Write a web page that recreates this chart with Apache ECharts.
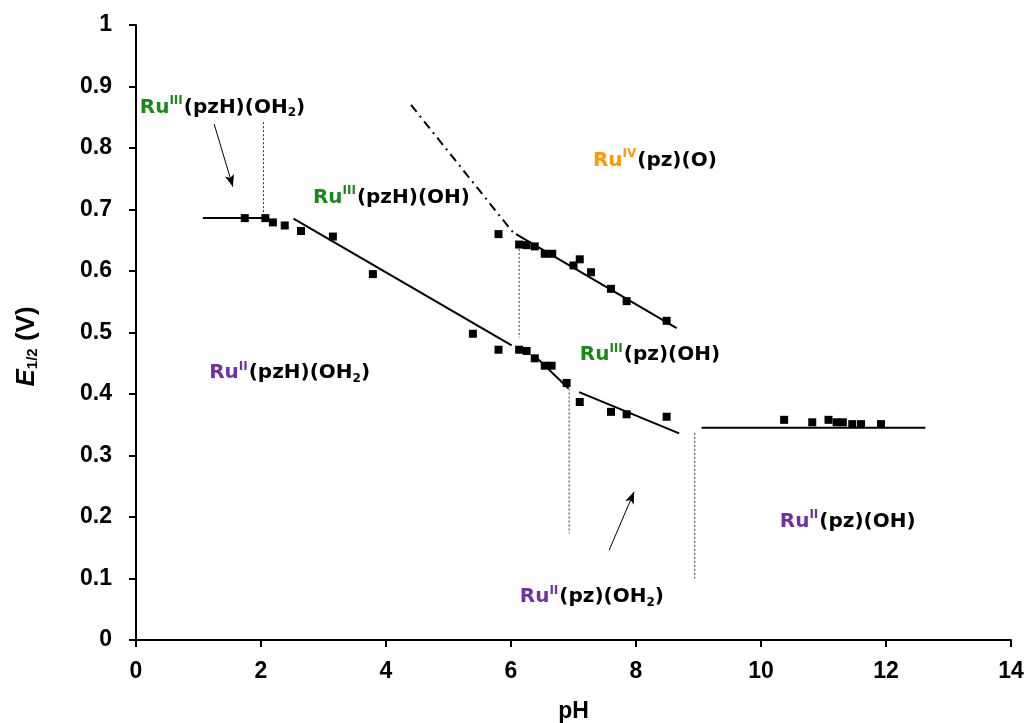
<!DOCTYPE html>
<html>
<head>
<meta charset="utf-8">
<script src="https://cdn.jsdelivr.net/npm/echarts@6/dist/echarts.min.js"></script>
<style>
  html, body { margin: 0; padding: 0; background: #fff; }
  #main { width: 1028px; height: 723px; }
</style>
</head>
<body>
<div id="main"></div>
<script>
// measured points, lower couple Ru(III)/Ru(II)
var lowX = [1.74, 2.07, 2.19, 2.38, 2.64, 3.15, 3.79, 5.39, 5.80, 6.13, 6.25, 6.38, 6.54, 6.65, 6.89, 7.10, 7.60, 7.85, 8.49];
var lowY = [0.686, 0.686, 0.679, 0.674, 0.665, 0.656, 0.595, 0.498, 0.472, 0.472, 0.470, 0.458, 0.446, 0.446, 0.418, 0.387, 0.371, 0.367, 0.363];
// upper couple Ru(IV)/Ru(III)
var upX = [5.80, 6.13, 6.25, 6.38, 6.54, 6.66, 7.00, 7.10, 7.28, 7.60, 7.85, 8.49];
var upY = [0.660, 0.643, 0.642, 0.640, 0.628, 0.628, 0.609, 0.619, 0.598, 0.571, 0.551, 0.519];
// high pH
var highX = [10.37, 10.82, 11.08, 11.21, 11.31, 11.46, 11.60, 11.92];
var highY = [0.358, 0.354, 0.358, 0.354, 0.354, 0.351, 0.351, 0.351];

// fitted segments
var fitLines = [
  [[1.07, 0.686], [2.07, 0.686]],
  [[2.52, 0.685], [6.01, 0.479]],
  [[6.38, 0.462], [6.92, 0.409]],
  [[7.09, 0.403], [8.69, 0.336]],
  [[6.08, 0.660], [8.65, 0.507]],
  [[9.05, 0.345], [12.63, 0.345]]
];
var dashDotLine = [[4.40, 0.870], [6.03, 0.663]];
// pKa markers
var dottedLines = [
  [[2.04, 0.842], [2.04, 0.693]],
  [[6.13, 0.636], [6.13, 0.492]],
  [[6.93, 0.409], [6.93, 0.173]],
  [[8.94, 0.337], [8.94, 0.100]]
];
var arrows = [
  [[1.25, 0.839], [1.55, 0.737]],
  [[7.57, 0.146], [7.97, 0.241]]
];

// region labels: [x, y, metal, colour key, oxidation state, ligands, subscript, tail]
var regionLabels = [
  [0.06, 0.866, 'Ru', 'g', 'III', '(pzH)(OH', '2', ')'],
  [2.83, 0.719, 'Ru', 'g', 'III', '(pzH)(OH)', '', ''],
  [7.31, 0.780, 'Ru', 'o', 'IV', '(pz)(O)', '', ''],
  [1.17, 0.434, 'Ru', 'p', 'II', '(pzH)(OH', '2', ')'],
  [7.10, 0.463, 'Ru', 'g', 'III', '(pz)(OH)', '', ''],
  [6.14, 0.070, 'Ru', 'p', 'II', '(pz)(OH', '2', ')'],
  [10.30, 0.193, 'Ru', 'p', 'II', '(pz)(OH)', '', '']
];

function zip(xs, ys) {
  var out = [];
  for (var i = 0; i < xs.length; i++) out.push([xs[i], ys[i]]);
  return out;
}

var txtFont = 'DejaVu Sans';
var rich = {
  g: { color: '#178a17', fontSize: 20, fontWeight: 'bold', fontFamily: txtFont },
  o: { color: '#ff9900', fontSize: 20, fontWeight: 'bold', fontFamily: txtFont },
  p: { color: '#7030a0', fontSize: 20, fontWeight: 'bold', fontFamily: txtFont },
  gs: { color: '#178a17', fontSize: 12, fontWeight: 'bold', fontFamily: txtFont, padding: [0, 1, 13, 0] },
  os: { color: '#ff9900', fontSize: 12, fontWeight: 'bold', fontFamily: txtFont, padding: [0, 1, 13, 0] },
  ps: { color: '#7030a0', fontSize: 12, fontWeight: 'bold', fontFamily: txtFont, padding: [0, 1, 13, 0] },
  k: { color: '#000', fontSize: 20, fontWeight: 'bold', fontFamily: txtFont },
  sub: { color: '#000', fontSize: 12, fontWeight: 'bold', fontFamily: txtFont, padding: [11, 0, 0, 0] }
};

var labelData = regionLabels.map(function (r) {
  var s = '{' + r[3] + '|' + r[2] + '}{' + r[3] + 's|' + r[4] + '}{k|' + r[5] + '}';
  if (r[6]) s += '{sub|' + r[6] + '}{k|' + r[7] + '}';
  return { value: [r[0], r[1]], label: { formatter: s } };
});

var series = [];
fitLines.forEach(function (seg) {
  series.push({ type: 'line', data: seg, showSymbol: false, silent: true,
    lineStyle: { color: '#000', width: 2 } });
});
series.push({ type: 'line', data: dashDotLine, showSymbol: false, silent: true,
  lineStyle: { color: '#000', width: 2, type: [9, 5, 2, 5] } });
dottedLines.forEach(function (seg) {
  series.push({ type: 'line', data: seg, showSymbol: false, silent: true,
    lineStyle: { color: '#333', width: 1, type: [2, 2] } });
});
series.push({ type: 'line', data: [], silent: true,
  markLine: {
    silent: true, symbol: ['none', 'arrow'], symbolSize: [7, 12],
    label: { show: false },
    lineStyle: { color: '#000', width: 1, type: 'solid' },
    data: arrows.map(function (a) { return [{ coord: a[0] }, { coord: a[1] }]; })
  }
});
[zip(lowX, lowY), zip(upX, upY), zip(highX, highY)].forEach(function (pts) {
  series.push({ type: 'scatter', data: pts, symbol: 'rect', symbolSize: 8,
    itemStyle: { color: '#000', opacity: 1 } });
});
series.push({ type: 'scatter', data: labelData, symbolSize: 0, silent: true,
  itemStyle: { opacity: 1 },
  label: { show: true, position: 'right', distance: 0, opacity: 1, rich: rich } });

var tickFont = { fontFamily: 'Liberation Sans', fontWeight: 'bold', fontSize: 23, color: '#000' };

var chart = echarts.init(document.getElementById('main'));
chart.setOption({
  animation: false,
  backgroundColor: '#fff',
  grid: { left: 136, right: 17, top: 25, bottom: 83, outerBoundsMode: 'none' },
  xAxis: {
    type: 'value', min: 0, max: 14, interval: 2,
    name: 'pH', nameLocation: 'middle', nameGap: 60,
    nameTextStyle: { fontFamily: 'Liberation Sans', fontWeight: 'bold', fontSize: 23, color: '#000' },
    axisLine: { lineStyle: { color: '#000', width: 2 } },
    axisTick: { inside: false, length: 7, lineStyle: { color: '#000', width: 2 } },
    axisLabel: Object.assign({ margin: 20 }, tickFont),
    splitLine: { show: false }
  },
  yAxis: {
    type: 'value', min: 0, max: 1, interval: 0.1,
    name: '{e|E}{s|1/2}{v| (V)}', nameLocation: 'middle', nameGap: 96, nameRotate: 90,
    nameTextStyle: {
      padding: [0, 28, 0, 0],
      rich: {
        e: { fontFamily: 'Liberation Sans', fontWeight: 'bold', fontStyle: 'italic', fontSize: 26, color: '#000' },
        s: { fontFamily: 'Liberation Sans', fontWeight: 'bold', fontSize: 15, color: '#000', padding: [11, 0, 0, 0] },
        v: { fontFamily: 'Liberation Sans', fontWeight: 'bold', fontSize: 26, color: '#000' }
      }
    },
    axisLine: { show: true, lineStyle: { color: '#000', width: 2 } },
    axisTick: { show: true, inside: false, length: 7, lineStyle: { color: '#000', width: 2 } },
    axisLabel: Object.assign({ margin: 24,
      formatter: function (v) { return String(+v.toFixed(1)); } }, tickFont),
    splitLine: { show: false }
  },
  series: series
});
</script>
</body>
</html>
